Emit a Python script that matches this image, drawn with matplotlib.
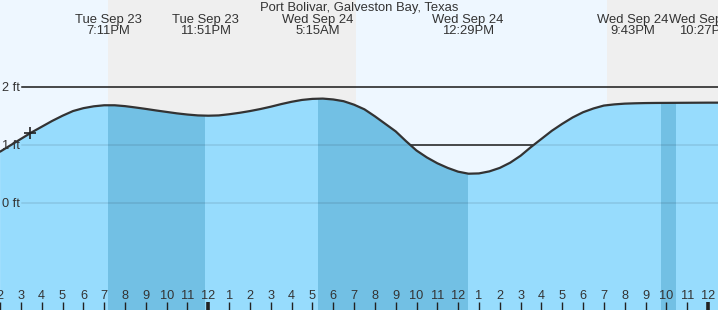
import matplotlib
matplotlib.use("Agg")
import matplotlib.pyplot as plt

plt.rcParams['font.family'] = ['Liberation Sans', 'DejaVu Sans']

# ---- data (hours relative to Wed Sep 24 00:00), read every half hour ----
tide_hours = [-10, -9.5, -9, -8.5, -8, -7.5, -7, -6.5, -6, -5.5, -5, -4.5, -4, -3.5,
              -3, -2.5, -2, -1.5, -1, -0.5, 0, 0.5, 1, 1.5, 2, 2.5, 3, 3.5, 4, 4.5,
              5, 5.5, 6, 6.5, 7, 7.5, 8, 8.5, 9, 9.5, 10, 10.5, 11, 11.5, 12, 12.5,
              13, 13.5, 14, 14.5, 15, 15.5, 16, 16.5, 17, 17.5, 18, 18.5, 19, 19.5,
              20, 20.5, 21, 21.5, 22, 22.5, 23, 23.5, 24, 24.5]
tide_ft = [0.89, 1.00, 1.11, 1.22, 1.32, 1.42, 1.51, 1.59, 1.64, 1.672, 1.69, 1.69,
           1.675, 1.652, 1.627, 1.60, 1.575, 1.55, 1.53, 1.515, 1.51, 1.515, 1.535,
           1.56, 1.59, 1.625, 1.665, 1.71, 1.75, 1.782, 1.80, 1.805, 1.79, 1.76,
           1.70, 1.62, 1.50, 1.37, 1.24, 1.07, 0.91, 0.79, 0.69, 0.61, 0.545, 0.51,
           0.515, 0.55, 0.61, 0.70, 0.82, 0.97, 1.11, 1.25, 1.37, 1.48, 1.57, 1.635,
           1.685, 1.705, 1.718, 1.724, 1.728, 1.73, 1.731, 1.732, 1.733, 1.734, 1.735,
           1.735]

night_start = [-4.82, 19.17]
night_end = [7.10, 24.5]

event_hours = [-4.82, -0.15, 5.25, 12.48, 21.72, 22.45]
event_day = ["Tue Sep 23", "Tue Sep 23", "Wed Sep 24", "Wed Sep 24", "Wed Sep 24", "Wed Sep 24"]
event_time = ["7:11PM", "11:51PM", "5:15AM", "12:29PM", "9:43PM", "10:27PM"]
event_label_shift_px = [0, 0, 0, 0, -28, 29]

band_start = [-4.82, 5.25, 21.72]
band_end = [-0.15, 12.48, 22.45]

now_hour = -8.56
now_ft = 1.21

ft_levels = [2, 1, 0]
ft_labels = ["2 ft", "1 ft", "0 ft"]

hour_ticks = list(range(-10, 25))
hour_tick_labels = ["2", "3", "4", "5", "6", "7", "8", "9", "10", "11", "12",
                    "1", "2", "3", "4", "5", "6", "7", "8", "9", "10", "11", "12",
                    "1", "2", "3", "4", "5", "6", "7", "8", "9", "10", "11", "12"]
midnight_ticks = [0, 24]

title = "Port Bolivar, Galveston Bay, Texas"

# ---- style ----
W, H = 718, 310
DPI = 100
day_bg = "#eef7ff"
night_bg = "#efefef"
water = "#97dcfd"
water_dark = "#72c0e4"
text_col = "#333333"
line_col = "#333333"

fig = plt.figure(figsize=(W / DPI, H / DPI), dpi=DPI)
ax = fig.add_axes([0, 0, 1, 1])
ax.set_facecolor(day_bg)
x0_px, px_per_h = 208.3, 20.82
ax.set_xlim(-x0_px / px_per_h, (W - x0_px) / px_per_h)
ax.set_ylim(-1.84, 3.505)
for s in ax.spines.values():
    s.set_visible(False)
ax.set_xticks([])
ax.set_yticks([])

# night background
for a, b in zip(night_start, night_end):
    ax.axvspan(a, b, color=night_bg, zorder=0, lw=0)

# dark grid lines (visible above water)
xmin_frac = 22 / W
for lv in ft_levels:
    ax.axhline(lv, xmin=xmin_frac, xmax=1, color="#222222", lw=1.1, zorder=1)

# water
poly = ax.fill_between(tide_hours, -5, tide_ft, color=water, lw=0, zorder=2)
clip_path = poly.get_paths()[0]

for a, b in zip(band_start, band_end):
    sp = ax.axvspan(a, b, color=water_dark, lw=0, zorder=3)
    sp.set_clip_path(clip_path, ax.transData)

# faint grid lines inside water
for lv in ft_levels:
    ax.axhline(lv, xmin=xmin_frac, xmax=1, color="black", alpha=0.1, lw=1.1, zorder=4)

# tide curve
ax.plot(tide_hours, tide_ft, color=line_col, lw=1.6, zorder=5,
        solid_capstyle="round", solid_joinstyle="round")
ax.plot([now_hour], [now_ft], marker="+", color="#222222", ms=9, mew=1.2, zorder=6)

# y labels
for lv, lab in zip(ft_levels, ft_labels):
    ax.annotate(lab, xy=(0, lv), xycoords=("axes fraction", "data"),
                xytext=(2, -1), textcoords="offset pixels",
                ha="left", va="center", fontsize=9.2, color=text_col, zorder=7)

# hour ticks
for h, lab in zip(hour_ticks, hour_tick_labels):
    thick = h in midnight_ticks
    ax.vlines(h, 0, 8 / H, transform=ax.get_xaxis_transform(),
              color="#222222", lw=2.6 if thick else 1.0, zorder=7)
    ax.annotate(lab, xy=(h, 0), xycoords=("data", "axes fraction"),
                xytext=(0, 14), textcoords="offset pixels",
                ha="center", va="center", fontsize=9.2, color=text_col, zorder=7)

# title
fig.text(0.5, 1 - 7.5 / H, title, ha="center", va="center", fontsize=9.4, color=text_col)

# event labels
for h, d, t, sh in zip(event_hours, event_day, event_time, event_label_shift_px):
    ax.annotate(d, xy=(h, 1), xycoords=("data", "axes fraction"),
                xytext=(sh, -19.5), textcoords="offset pixels",
                ha="center", va="center", fontsize=9.4, color=text_col, zorder=8,
                annotation_clip=False)
    ax.annotate(t, xy=(h, 1), xycoords=("data", "axes fraction"),
                xytext=(sh, -31.5), textcoords="offset pixels",
                ha="center", va="center", fontsize=9.4, color=text_col, zorder=8,
                annotation_clip=False)

fig.savefig("out.png", dpi=DPI)
